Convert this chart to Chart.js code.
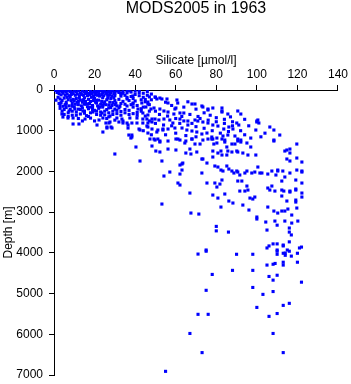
<!DOCTYPE html>
<html lang="en">

<head>
    <meta charset="UTF-8">
    <script src="https://cdn.jsdelivr.net/npm/chart.js"></script>
    <title>MODS2005 in 1963</title>

    <style>
        body {
            margin: 0;
            background: #fff;
        }

        .grafico_sty {
            width: 351px;
            height: 384px;
        }
    </style>
</head>

<body>

    <div class="grafico_sty">
        <canvas id="grafico_1"></canvas>
    </div>

    <script>

        const chartTitle = 'MODS2005 in 1963';
        const xTitle = 'Silicate [µmol/l]';
        const yTitle = 'Depth [m]';

        const silicateRange = [0, 140, 20];
        const depthRange = [0, 7000, 1000];

        // [silicate, depth] pairs
        const surfaceLayer = [
            [1,10],[2,30],[3,15],[4,40],[5,20],[6,50],[7,10],[8,35],[9,60],[10,20],[11,45],[12,15],[13,70],[14,30],[15,50],
            [16,10],[17,80],[18,25],[19,55],[20,15],[21,40],[22,90],[23,20],[24,60],[25,30],[26,100],[27,40],[28,70],[29,20],[30,50],
            [1.5,60],[2.5,90],[3.5,120],[4.5,80],[5.5,130],[6.5,100],[7.5,140],[8.5,110],[9.5,90],[10.5,130],[11.5,100],[12.5,140],
            [13.5,110],[14.5,130],[15.5,90],[16.5,140],[17.5,120],[18.5,100],[19.5,140],[20.5,110],[21.5,130],[22.5,150],[23.5,110],
            [24.5,140],[25.5,80],[26.5,130],[27.5,110],[28.5,150],[29.5,90],[31,20],[32,60],[33,100],[34,40],[35,130],[36,70],[37,20],
            [38,160],[40,110],[42,60],[44,180],[46,130],[48,240],[50,180],
            [0.5,5],[2,5],[4,8],[6,5],[8,5],[10,8],[12,5],[14,5],[16,40],[18,60],[20,50],[22,30],[24,10],[26,50],[28,10],[30,90],
            [32,30],[34,80],[36,10],[38,50],[40,30],[42,10],[44,80],[46,40],[48,100],[27,130],[30,140],[33,150],[36,180],[39,210],
            [42,140],[45,230],[47,170],
            [2,180],[3,220],[4,260],[5,200],[6,300],[7,240],[8,180],[9,330],[10,270],[11,210],[12,360],[13,250],[14,300],[15,190],
            [16,340],[17,230],[18,280],[19,380],[20,200],[21,320],[22,250],[23,350],[24,190],[25,290],[26,240],[27,370],[28,210],
            [29,310],[30,260],[31,390],[32,230],[33,330],[3.5,310],[5.5,360],[7.5,390],[9.5,230],[11.5,300],[13.5,390],[15.5,280],
            [17.5,330],[19.5,260],[21.5,390],[23.5,280],[25.5,360],[27.5,300],[29.5,190],[34,280],[36,220],[38,360],[40,270],
            [1,250],[2.5,330],[4.5,400],[6.5,180],[8.5,260],[10.5,350],[12.5,200],[14.5,240],[16.5,410],[18.5,180],[20.5,300],
            [22.5,420],[24.5,330],[26.5,200],[28.5,380],[30.5,320],[32.5,400],[35,350],[37,260],[39,320],[41,380],[43,240],[45,290],
            [47,360],[44,420],[3,380],[6,350],[9,400],[12,280],[15,350],[18,420],[21,250],[24,380],[27,440],[30,360],
            [3,450],[4,520],[5,600],[6,430],[7,560],[8,480],[9,620],[10,420],[11,540],[12,470],[13,590],[14,440],[15,520],[16,630],
            [17,460],[18,560],[19,410],[20,500],[21,600],[22,450],[23,540],[24,420],[25,610],[26,480],[27,560],[28,430],[29,520],
            [30,470],[31,580],[32,440],[33,530],[35,480],[37,600],[39,420],[41,550],[43,460],[45,640],
            [5,480],[7,650],[9,520],[11,620],[13,480],[15,570],[17,650],[19,480],[21,520],[23,620],[25,520],[27,660],[29,600],
            [31,500],[33,620],[35,560],[37,500],[39,580],[41,620],[43,520],[47,520],[12,700],[18,690],[26,700],[20,760],[30,740],
            [14,760]
        ];

        const upperOcean = [
            [3.9,590],[6.9,688],[9.4,688],[15.3,713],[22.2,737],[24.1,688],[25.6,811],[27.6,786],[32,786],[34,811],[36,811],
            [41.9,958],[45.8,885],[26.1,934],[28.6,934],[36.5,934],[4.4,664],[7.4,516],[10.3,467],[14.3,516],[19.2,541],[23.6,565],
            [27.6,639],[31,688],[33.5,713],[37.4,688],[40.9,688],[43.8,713],[43.8,565],[41.4,467],[38.9,344],[36,393],[33,74],
            [38.9,147],[43.3,319],[46.3,344],
            [9.4,835],[12.3,835],[21.2,860],[26.1,909],[28.1,909],[24.1,1032],[27.1,811],[34,762],[36.5,860],[38.4,811],
            [36.9,1106],[38.4,1106],[38.4,1155],[42.4,983],[40.9,811],[43.8,811],[46.3,811],[48.3,786],[46.3,1057],[49.8,1229],
            [52.2,1278],[50.7,1032],[53.7,983],[62.1,1843],[63.5,1794],
            [49.8,172],[50.7,221],[53.2,221],[55.7,221],[56.2,319],[60.6,246],[46.3,295],[68,344],[69.5,344],[72.9,393],[78.3,442],
            [82.8,442],[82.8,516],[75.9,491],[85.7,590],[92.1,590],[45.3,418],[47.8,467],[49.3,442],[52.2,467],[54.2,516],[56.2,541],
            [59.6,467],[62.1,565],[64,565],[59.1,590],[46.3,614],[45.8,713],[48.3,713],[49.8,713],[51.7,737],[54.2,713],[57.1,737],
            [58.6,811],[62.1,713],[66,762],[69.5,737],[70.9,762],[73.4,786],[75.9,811],[78.3,860],[80.8,885],[83.7,958],[86.2,909],
            [88.2,958],[91.1,860],[46.3,909],[48.3,958],[51.2,983],[53.7,958],[56.2,958],[59.6,934],[63.1,934],[65.5,983],[68,1007],
            [70.4,1032],[72.9,1081],[75.4,1057],[77.8,1155],[80.3,1180],[83.3,1130],[85.7,1106],[89.2,1130],[47.3,1204],[51.2,1204],
            [61.1,1204],[68,1204],[78.3,1204],[84.2,1229],[90.6,1204],
            [52.2,197],[60.1,442],[73.4,418],[75.9,467],[82.8,541],[90.6,516],[100,786],[90.1,811],
            [100,762],[100.5,737],[101,811],[99.5,983],[106.4,909],[108.4,983],[111.3,1106],[108.4,1229],[92.1,1229],
            [55,300],[58,380],[61,320],[64,420],[66,290],[70,470],[63,650],[67,600],[71,650],[74,560],[77,620],[80,680],[84,720],
            [87,660],[88,780],[94,720],[96,880],[86,1020],[82,1060],[78,1000],[74,940],[70,900],[66,860],[62,820],[58,880],[54,860],
            [50,820],[47,760],[44,1000],[48,1100],[55,1100],[60,1060],[65,1120],[70,1150],[92,1000],[94,1100],[97,1180],[102,1150],
            [104,1060],[56,640],[52,600],[50,520],[60,700],[64,760],[68,820],[72,700],[76,740],[80,780],[84,820],[88,880]
        ];

        const midDepth = [
            [30,1572],[40.4,1400],[42.4,1744],[37.9,1180],[49.3,1204],[52.2,1253],[56.2,1253],[60.1,1204],[62.1,1229],
            [64.5,1302],[48.3,1376],[50.2,1499],[52.2,1523],[56.2,1450],[60.1,1474],[65,1548],[53.2,1744],[63.1,1818],[63.1,1966],
            [62.1,2064],[57.1,2015],[54.2,2113],[61.1,2285],[62.1,2334],[53.2,2801],
            [65,1253],[68,1204],[69.5,1327],[72,1327],[73.4,1229],[75.9,1204],[77.8,1204],[78.8,1327],[80.3,1302],[82.8,1204],
            [84.2,1278],[85.2,1400],[87.7,1327],[89.2,1327],[90.6,1253],[92.1,1278],[95.1,1302],[97,1400],[108.4,1253],[119.7,1327],
            [67,1450],[67.5,1572],[70.4,1523],[72.9,1695],[73.4,1695],[75.4,1794],[78.3,1499],[78.3,1646],[80.8,1548],[82.3,1499],
            [82.8,1597],[85.2,1597],[85.7,1499],[87.7,1523],[90.1,1499],[90.6,1523],[93.1,1548],[95.6,1597],[99.5,1597],
            [113.8,1499],[114.8,1474],[116.3,1450],[116.3,1548],[114.8,1695],[116.3,1744],[119.7,1671],[122.2,1769],
            [72.9,2039],[79.3,1867],[80.8,1892],[82.3,1966],[83.3,1990],[85.2,1867],[86.2,1941],[87.7,1990],[88.7,2039],[90.1,1990],
            [90.6,2015],[91.6,2088],[94.1,2039],[95.1,1990],[97.5,2039],[99,2015],[100.5,1892],[101.5,2039],[102.5,2039],
            [105.4,2064],[107.4,1990],[110.3,1990],[112.8,1990],[113.8,2137],[116.3,2039],[119.7,1966],[122.2,1990],[109.4,2088],
            [112.3,2236],[110.3,1966],[122.2,2015],[119.2,2211],[122.2,2285],[119.2,2457],[116.3,2506],[122.2,2629],[119.2,2752],
            [75.4,2285],[79.3,2285],[80.3,2383],[81.8,2310],[82.8,2211],[84.2,2555],[86.2,2727],[88.2,2776],[90.6,2236],[92.6,2236],
            [91.6,2482],[94.1,2482],[95.1,2359],[95.6,2457],[96.6,2654],[98,2678],[99,2629],[93.1,2826],[96.1,2948],[105.4,2408],
            [106.4,2457],[107.4,2359],[108.9,2482],[112.3,2457],[113.3,2482],[112.3,2604],[114.8,2727],[116.3,2482],[119.2,2703],
            [119.2,2432],[122.2,2531],[67,2531],[71.4,3047],[67.5,3022],[78.3,2580],[80.8,2654],[82.3,2875],[105.4,2875],
            [108.4,2973],[110.3,3022],[112.3,2973],[113.8,2973],[115.3,2924],[117.2,3071],[119.7,2899],[120.2,3219],[108.9,3219],
            [104.4,3243],[100,3120],[100,3169],[113.8,3219],[117.2,3268]
        ];

        const abyss = [
            [80,3350],[80,3460],[86,3490],[105,3440],[110,3320],[116,3390],[116,3490],[117,3560],[75,3930],[105,3880],[106,3830],
            [108,3780],[110,3780],[113,3830],[110,3930],[115,3930],[116,3730],[121,3880],[113,3808],[122,3858],[114,4005],
            [71,4030],[75,3960],[90,4035],[98,4035],[110,3960],[110,4035],[113,4010],[114,4060],[116,3960],[117,4080],[120,4010],
            [78,4530],[88,4430],[98,4430],[105,4300],[106,4580],[108,4280],[109,4260],[110,4550],[113,4230],[113,4300],[120,4230],
            [108,4670],[122,4720],[75,4920],[98,4850],[103,5020],[108,4950],[116,5240],[113,5290],[100,5340],
            [71,5510],[76,5510],[106,5560],[110,5490],[67,5980],[108,5980],[73,6450],[113,6450],[55,6910]
        ];

        const fontFamily = '"Liberation Sans", Arial, Helvetica, sans-serif';

        const pontos = [...surfaceLayer, ...upperOcean, ...midDepth, ...abyss].map(p => ({ x: p[0], y: p[1] }));

        const tituloCentrado = {
            id: 'tituloCentrado',
            afterDraw(chart) {
                const { ctx, chartArea } = chart;
                ctx.save();
                ctx.fillStyle = '#000';
                ctx.font = '16px ' + fontFamily;
                ctx.textAlign = 'center';
                ctx.textBaseline = 'middle';
                ctx.fillText(chartTitle, (chartArea.left + chartArea.right) / 2, 9);
                ctx.restore();
            }
        };

        const ctx = document.getElementById('grafico_1');

        new Chart(ctx, {
            type: 'scatter',
            data: {
                datasets: [{
                    data: pontos,
                    pointStyle: 'rect',
                    pointRadius: 2.2,
                    pointBorderWidth: 0,
                    backgroundColor: '#0000ff',
                    borderColor: '#0000ff'
                }]
            },
            options: {
                responsive: true,
                maintainAspectRatio: false,
                animation: false,
                layout: { padding: { top: 0, left: 0, right: 11, bottom: 9 } },
                plugins: {
                    legend: { display: false },
                    tooltip: { enabled: false },
                    title: { display: false }
                },
                scales: {
                    x: {
                        type: 'linear',
                        position: 'top',
                        min: silicateRange[0],
                        max: silicateRange[1],
                        ticks: { stepSize: silicateRange[2], color: '#000', padding: 3, font: { family: fontFamily, size: 12 } },
                        grid: { drawOnChartArea: false, tickLength: 5, color: '#000' },
                        border: { color: '#000', width: 1 },
                        title: { display: true, text: xTitle, color: '#000', padding: { top: 53, bottom: 0 }, font: { family: fontFamily, size: 12 } },
                        afterFit(s) { s.height = 90; }
                    },
                    y: {
                        type: 'linear',
                        reverse: true,
                        min: depthRange[0],
                        max: depthRange[1],
                        ticks: {
                            stepSize: depthRange[2], color: '#000', padding: 6, font: { family: fontFamily, size: 12 },
                            callback: v => String(v)
                        },
                        grid: { drawOnChartArea: false, tickLength: 5, color: '#000' },
                        border: { color: '#000', width: 1 },
                        title: { display: true, text: yTitle, color: '#000', padding: { top: 1, bottom: 0 }, font: { family: fontFamily, size: 12 } },
                        afterFit(s) {
                            s.width = 54;
                            s.paddingTop = 0;
                            s.paddingBottom = 0;
                        }
                    }
                }
            },
            plugins: [tituloCentrado]
        });

    </script>

</body>

</html>
